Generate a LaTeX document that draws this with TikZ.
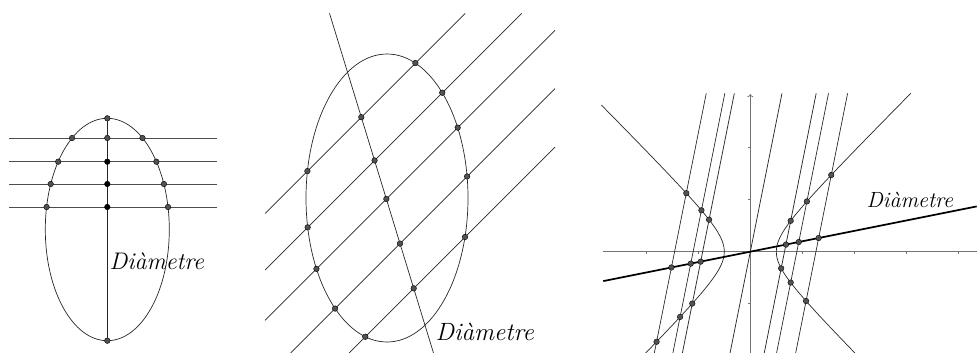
\documentclass[tikz,border=0pt]{standalone}
\usetikzlibrary{arrows.meta,intersections}
\begin{document}
\begin{tikzpicture}[x=1pt,y=-1pt,
  ln/.style={black!85,line width=0.7pt},
  hl/.style={black!70,line width=0.8pt},
  ax/.style={black!55,line width=0.8pt},
  diam/.style={black,line width=1.7pt},
  dotg/.style={fill=black!68,draw=black,line width=0.4pt},
  dotb/.style={fill=black,draw=black,line width=0.4pt},
  lbl/.style={inner sep=0pt,anchor=west}]
\useasboundingbox (0,0) rectangle (977,353);
% ---------- panel 1 ----------
\draw[ln] (107.3,229.5) ellipse [x radius=62, y radius=111.2];
\foreach \y in {138,161.7,184,207} \draw[hl] (9,\y) -- (216.7,\y);
\draw[ln] (107.3,118.3) -- (107.3,340.7);
\foreach \p in {(72.1,138),(142.5,138),(58.2,161.7),(156.4,161.7),(50.7,184),(163.9,184),(46.6,207),(168.0,207),(107.3,118.3),(107.3,340.7),(107.3,138)}
  \filldraw[dotg] \p circle (2.8pt);
\foreach \p in {(107.3,161.7),(107.3,184),(107.3,207)}
  \filldraw[dotb] \p circle (2.8pt);
\node[lbl,font=\fontsize{24}{28}\selectfont\itshape] (l1) at (109.5,261.5) {Diàmetre};
% ---------- panel 2 ----------
\draw[ln,name path=ell] (387,198) ellipse [x radius=81, y radius=144];
\draw[ln,name path=dm] (329.5,13.3) -- (433.5,353);
\draw[ln,name path=cA] (265,213.5) -- (465.2,13.3);
\draw[ln,name path=cB] (265,270) -- (521.7,13.3);
\draw[ln,name path=cC] (265,320.3) -- (555,30.3);
\draw[ln,name path=cD] (290.6,353) -- (555,88.6);
\draw[ln,name path=cE] (349,353) -- (555,147);
\foreach \L in {A,B,C,D,E}{
  \path[name intersections={of=ell and c\L,by={e1,e2}}];
  \path[name intersections={of=dm and c\L,by={m1}}];
  \filldraw[dotg] (e1) circle (2.8pt);
  \filldraw[dotg] (e2) circle (2.8pt);
  \filldraw[dotg] (m1) circle (2.8pt);
}
\node[lbl,font=\fontsize{25}{29}\selectfont\itshape] (l2) at (435.5,332) {Diàmetre};
% ---------- panel 3 ----------
\begin{scope}[shift={(750.3,251.7)},x=52pt,y=52pt]
  \draw[ax] (-2.827,0) -- (4.354,0);
  \foreach \t in {-2,-1,1,2,3,4} \draw[ax,line width=0.6pt] (\t,0) -- (\t,-0.05);
  \draw[ax,-{To[length=3pt,width=6pt]}] (0,-1.948) -- (0,3.03);
  \foreach \t in {-1,1,2} \draw[ax,line width=0.6pt] (0,\t) -- (-0.05,\t);
  \draw[ln] plot[domain=-1.948:2.82,samples=80,smooth,variable=\t] ({-sqrt(0.25+\t*\t)},\t);
  \draw[ln] plot[domain=-1.948:3.046,samples=80,smooth,variable=\t] ({sqrt(0.25+\t*\t)},\t);
  \foreach \k in {7.28,5.496,4.582,0,-3.289,-4.475,-6.309}
    \draw[ln] ({(-1.948-\k)/5},-1.948) -- ({(3.046-\k)/5},3.046);
  \draw[diam] (-2.827,-0.5654) -- (4.354,0.8708);
  \foreach \p in {(-1.2310,1.125),(-1.8024,-1.732),(-1.5167,-0.3033),
                  (-0.9400,0.796),(-1.3500,-1.254),(-1.145,-0.229),
                  (-0.7932,0.616),(-1.1159,-0.997),(-0.9546,-0.1909),
                  (0.7767,0.594),(0.5937,-0.3205),(0.6853,0.1370),
                  (1.0883,0.967),(0.7763,-0.5935),(0.9323,0.1865),
                  (1.5566,1.474),(1.0721,-0.9485),(1.3144,0.2629)}
    \filldraw[dotg] \p circle (2.8pt);
\end{scope}
\node[lbl,font=\fontsize{22}{26}\selectfont\itshape] (l3) at (866.5,199.5) {Diàmetre};
\end{tikzpicture}
\end{document}
